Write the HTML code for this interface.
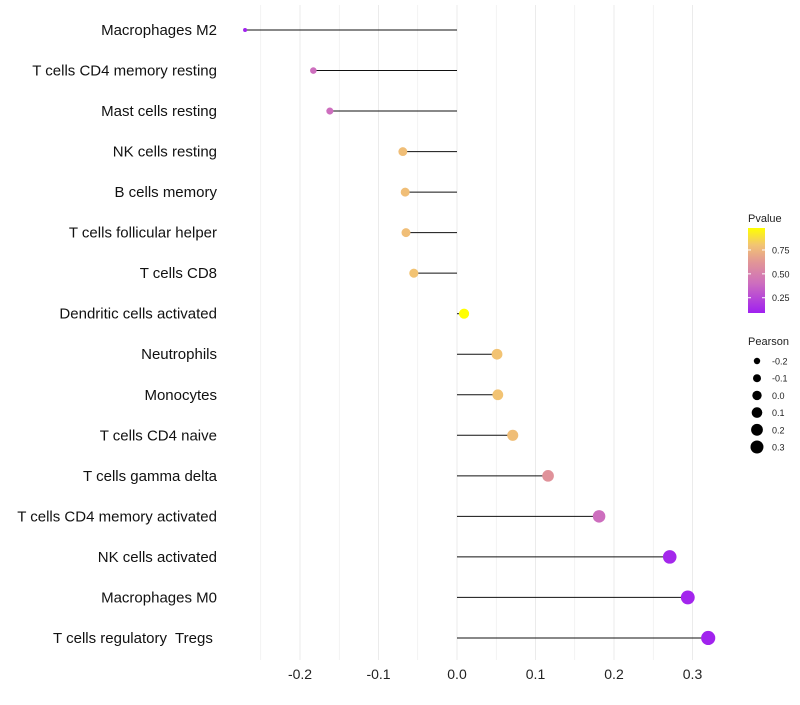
<!DOCTYPE html>
<html><head><meta charset="utf-8"><style>
body{margin:0;background:#fff;font-family:"Liberation Sans",sans-serif}
svg text{font-family:"Liberation Sans",sans-serif;white-space:pre}
</style></head><body>
<svg id="chart" width="800" height="700" xmlns="http://www.w3.org/2000/svg"></svg>
<script>
const categories=["Macrophages M2","T cells CD4 memory resting","Mast cells resting","NK cells resting","B cells memory","T cells follicular helper","T cells CD8","Dendritic cells activated","Neutrophils","Monocytes","T cells CD4 naive","T cells gamma delta","T cells CD4 memory activated","NK cells activated","Macrophages M0","T cells regulatory  Tregs "];
const pearson=[-0.270,-0.183,-0.162,-0.069,-0.066,-0.065,-0.055,0.009,0.051,0.052,0.071,0.116,0.181,0.271,0.294,0.320];
const pvalues=[0.10,0.40,0.40,0.78,0.78,0.78,0.80,0.98,0.80,0.80,0.78,0.60,0.40,0.12,0.11,0.10];
const xTicks=[-0.2,-0.1,0.0,0.1,0.2,0.3];
const xTickLabels=["-0.2","-0.1","0.0","0.1","0.2","0.3"];
const pTicks=[0.25,0.50,0.75];
const sizeLegend=[-0.2,-0.1,0.0,0.1,0.2,0.3];

const NS="http://www.w3.org/2000/svg";
const svg=document.getElementById('chart');
function el(t,a,p){const e=document.createElementNS(NS,t);for(const k in a)e.setAttribute(k,a[k]);(p||svg).appendChild(e);return e;}
const x=v=>457+(v)*785;
const y=i=>30+i*40.53;
const r=v=>Math.sqrt(4+78*Math.max(0,v+0.27));
const stops=[[0,[160,32,240]],[0.35,[205,110,190]],[0.6,[226,150,150]],[0.8,[242,196,115]],[1,[255,255,0]]];
function color(p){const t=Math.max(0,Math.min(1,(p-0.09)/0.89));for(let i=1;i<stops.length;i++){if(t<=stops[i][0]){const a=stops[i-1],b=stops[i],f=(t-a[0])/(b[0]-a[0]);return 'rgb('+a[1].map((c,j)=>Math.round(c+(b[1][j]-c)*f)).join(',')+')';}}return 'rgb(255,255,0)';}

for(let v=-0.25;v<=0.33;v+=0.05){const g=el('line',{x1:x(v),x2:x(v),y1:5,y2:660,stroke:'#ebebeb','stroke-width':Math.abs(Math.round(v*20))%2===0?1:0.6});

}
xTicks.forEach((v,i)=>{const t=el('text',{x:x(v),y:679,'text-anchor':'middle','font-size':14,fill:'#222'});t.textContent=xTickLabels[i];

});
categories.forEach((c,i)=>{
const t=el('text',{x:217,y:y(i)+5,'text-anchor':'end','font-size':15,fill:'#111'});t.textContent=c;


const l=el('line',{x1:x(0),x2:x(pearson[i]),y1:y(i),y2:y(i),stroke:'#111','stroke-width':1});


const d=el('circle',{cx:x(pearson[i]),cy:y(i),r:r(pearson[i]),fill:color(pvalues[i])});


});
let lt=el('text',{x:748,y:222,'font-size':11,fill:'#222'});lt.textContent='Pvalue';


const defs=el('defs',{});const lg=el('linearGradient',{id:'pg',x1:0,y1:1,x2:0,y2:0},defs);
stops.forEach(s=>el('stop',{offset:s[0],'stop-color':'rgb('+s[1].join(',')+')'},lg));
const bar=el('rect',{x:748,y:228,width:17,height:85,fill:'url(#pg)'});


const py=p=>313-(p-0.09)/0.89*85;
pTicks.forEach(p=>{el('line',{x1:748,x2:751,y1:py(p),y2:py(p),stroke:'#fff'});el('line',{x1:762,x2:765,y1:py(p),y2:py(p),stroke:'#fff'});
const t=el('text',{x:772,y:py(p)+3.5,'font-size':9,fill:'#222'});t.textContent=p.toFixed(2);

});
lt=el('text',{x:748,y:345,'font-size':11,fill:'#222'});lt.textContent='Pearson';


const lr=[3.2,4,4.7,5.3,5.9,6.5];
sizeLegend.forEach((v,i)=>{const cy=361+i*17.2;
const c=el('circle',{cx:757,cy:cy,r:lr[i],fill:'#000'});


const t=el('text',{x:772,y:cy+3.5,'font-size':9,fill:'#222'});t.textContent=v.toFixed(1);

});
</script>
</body></html>
